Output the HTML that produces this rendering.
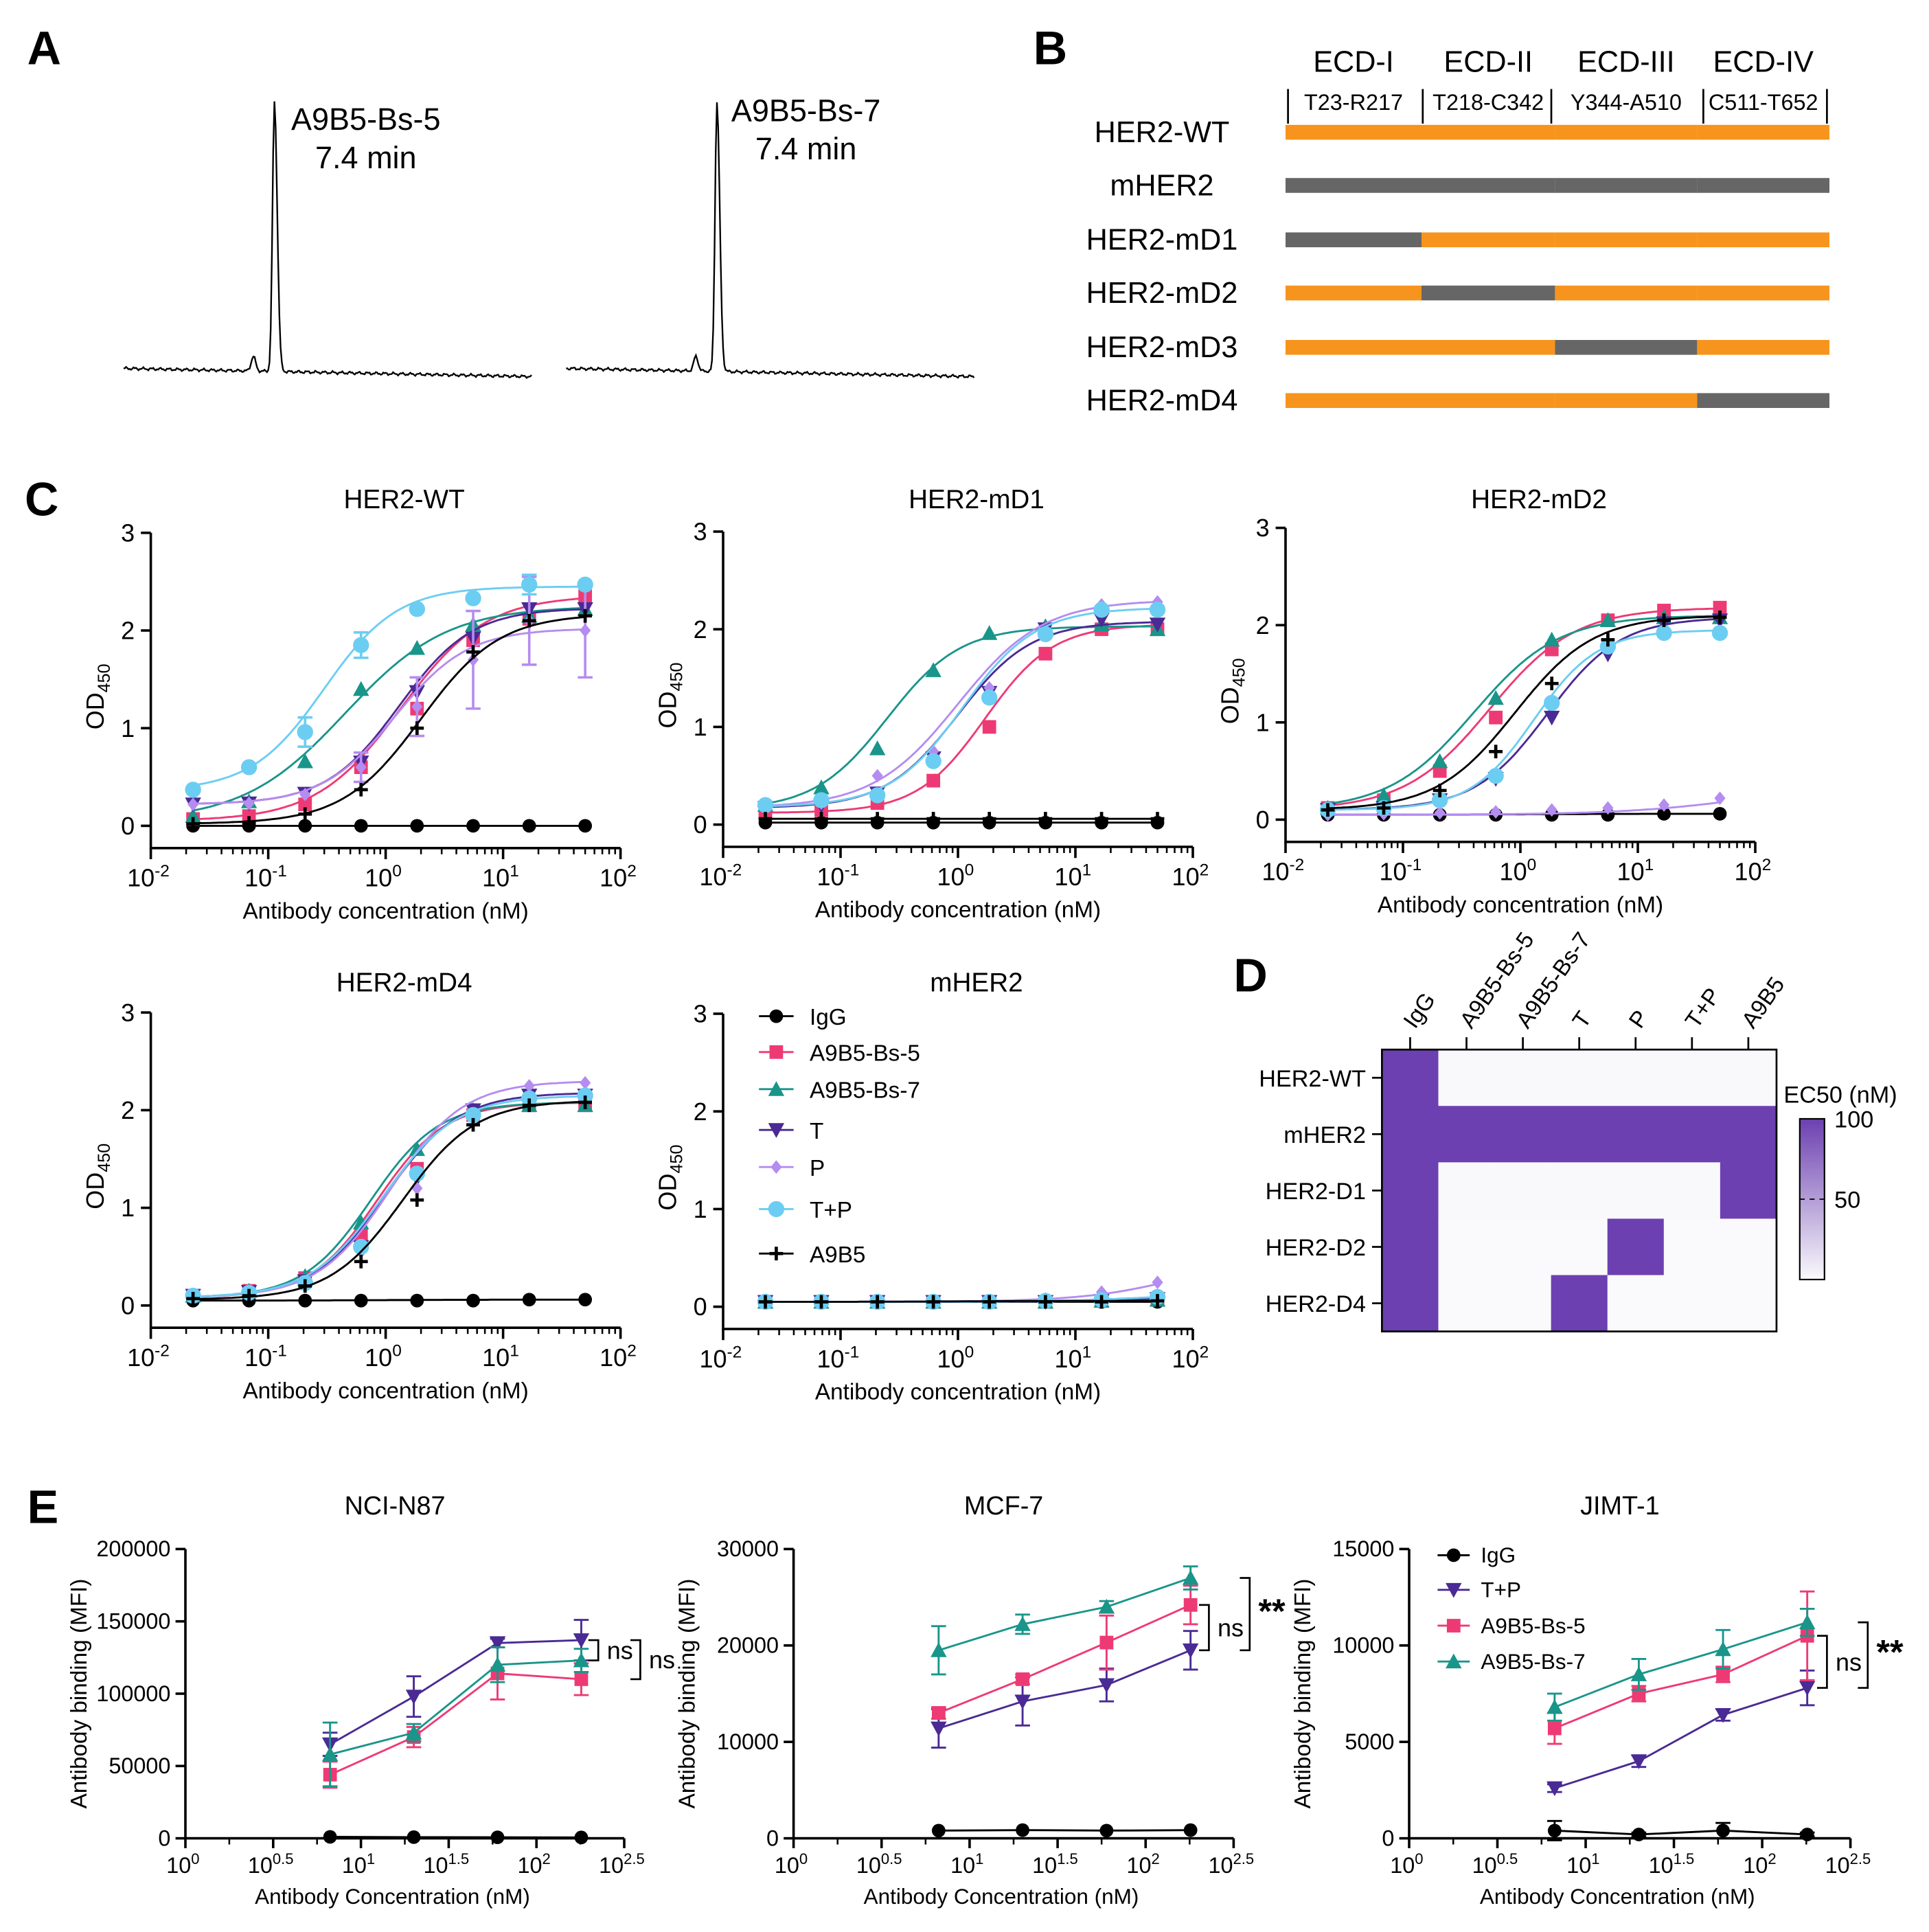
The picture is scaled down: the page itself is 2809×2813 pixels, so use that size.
<!DOCTYPE html>
<html><head><meta charset="utf-8"><style>
html,body{margin:0;padding:0;background:#fff}
svg{display:block}
text{font-family:"Liberation Sans",Arial,sans-serif;fill:#000}
</style></head><body>
<svg id="s" xmlns="http://www.w3.org/2000/svg" width="2809" height="2813" viewBox="0 0 1560.56 1562.78">
<rect width="1561" height="1563" fill="#fff"/>
</svg>
<script>
// ---------- DATA ----------
const concC=[0.0229,0.0686,0.206,0.617,1.85,5.56,16.7,50];
const seriesNames=['IgG','A9B5-Bs-5','A9B5-Bs-7','T','P','T+P','A9B5'];
// HER2-WT
const wtIgG=[0,0,0,0,0,0,0,0];
const wtBs5=[0.07,0.1,0.22,0.6,1.2,1.9,2.12,2.35];
const wtBs7=[0.1,0.25,0.66,1.4,1.82,2.06,2.15,2.22];
const wtT=[0.22,0.23,0.33,0.65,1.37,1.92,2.22,2.22];
const wtP=[0.22,0.23,0.32,0.6,1.22,1.7,2.1,2.0];
const wtTP=[0.37,0.6,0.96,1.85,2.22,2.33,2.47,2.47];
const wtA9B5=[0.02,0.03,0.12,0.37,1.0,1.78,2.1,2.15];
const wtErrP=[0,0,0,0.15,0.3,0.5,0.45,0.48];
const wtErrTP=[0,0,0.15,0.13,0,0,0.1,0];
// fits: [bottom, top, ec50, hill]
const wtFit=[[0,0,1,1],[0.05,2.36,1.35,1.2],[0.05,2.25,0.45,1.0],[0.22,2.23,1.3,1.4],[0.22,2.02,1.2,1.4],[0.36,2.45,0.3,1.4],[0.02,2.17,2.0,1.3]];
// HER2-mD1
const d1IgG=[0.02,0.02,0.02,0.02,0.02,0.02,0.02,0.02];
const d1Bs5=[0.12,0.15,0.22,0.45,1.0,1.75,2.0,2.0];
const d1Bs7=[0.2,0.38,0.78,1.58,1.96,2.03,2.05,2.0];
const d1T=[0.17,0.2,0.32,0.68,1.35,2.0,2.1,2.05];
const d1P=[0.18,0.22,0.5,0.75,1.4,1.95,2.25,2.28];
const d1TP=[0.2,0.25,0.3,0.65,1.3,1.95,2.2,2.2];
const d1A9B5=[0.06,0.06,0.06,0.06,0.06,0.06,0.06,0.06];
const d1Fit=[[0.02,0.02,1,1],[0.12,2.05,1.7,1.5],[0.15,2.03,0.25,1.4],[0.17,2.08,1.0,1.4],[0.17,2.3,1.0,1.2],[0.18,2.22,1.1,1.4],[0.06,0.06,1,1]];
// HER2-mD2
const d2IgG=[0.05,0.05,0.05,0.05,0.05,0.05,0.06,0.06];
const d2Bs5=[0.12,0.2,0.5,1.05,1.75,2.05,2.15,2.18];
const d2Bs7=[0.12,0.25,0.6,1.25,1.85,2.05,2.08,2.08];
const d2T=[0.1,0.12,0.2,0.42,1.05,1.7,2.02,2.05];
const d2P=[0.05,0.06,0.07,0.08,0.1,0.12,0.15,0.22];
const d2TP=[0.1,0.12,0.2,0.45,1.2,1.78,1.92,1.92];
const d2A9B5=[0.1,0.12,0.3,0.7,1.4,1.85,2.05,2.08];
const d2Fit=[[0.05,0.06,1,1],[0.1,2.18,0.55,1.2],[0.1,2.1,0.4,1.2],[0.1,2.08,1.7,1.4],[0.05,0.4,100,0.8],[0.1,1.95,1.3,1.6],[0.1,2.1,0.9,1.3]];
// HER2-mD4
const d4IgG=[0.05,0.05,0.05,0.05,0.05,0.05,0.06,0.06];
const d4Bs5=[0.1,0.15,0.28,0.72,1.4,1.95,2.05,2.05];
const d4Bs7=[0.1,0.15,0.3,0.85,1.6,2.0,2.05,2.05];
const d4T=[0.1,0.14,0.25,0.6,1.3,2.0,2.15,2.15];
const d4P=[0.1,0.13,0.22,0.55,1.2,1.95,2.25,2.28];
const d4TP=[0.1,0.13,0.23,0.6,1.35,1.95,2.12,2.15];
const d4A9B5=[0.07,0.1,0.2,0.45,1.08,1.85,2.05,2.08];
const d4Fit=[[0.05,0.06,1,1],[0.08,2.08,0.85,1.5],[0.08,2.08,0.75,1.5],[0.08,2.18,1.0,1.4],[0.08,2.3,1.1,1.4],[0.08,2.15,0.95,1.4],[0.06,2.1,1.4,1.4]];
// mHER2
const mIgG=[0.05,0.05,0.05,0.05,0.05,0.05,0.05,0.05];
const mBs5=[0.05,0.05,0.05,0.05,0.05,0.05,0.06,0.07];
const mBs7=[0.05,0.05,0.05,0.05,0.05,0.05,0.06,0.07];
const mT=[0.05,0.05,0.05,0.05,0.05,0.05,0.06,0.08];
const mP=[0.05,0.05,0.05,0.05,0.06,0.08,0.15,0.25];
const mTP=[0.05,0.05,0.05,0.05,0.05,0.06,0.07,0.1];
const mA9B5=[0.05,0.05,0.05,0.05,0.05,0.05,0.05,0.06];
const mFit=[[0.05,0.05,1,1],[0.05,0.1,50,1],[0.05,0.1,50,1],[0.05,0.12,50,1],[0.05,0.6,100,1],[0.05,0.15,50,1],[0.05,0.06,1,1]];
const yTicksC=[0,1,2,3];
const xDecC=[-2,-1,0,1,2];
// Heatmap
const hmCols=['IgG','A9B5-Bs-5','A9B5-Bs-7','T','P','T+P','A9B5'];
const hmRows=['HER2-WT','mHER2','HER2-D1','HER2-D2','HER2-D4'];
const hmWT=[100,1,1,1,1,1,1];
const hmM=[100,100,100,100,100,100,100];
const hmD1=[100,1,1,1,1,1,100];
const hmD2=[100,0,0,0,100,0,0];
const hmD4=[100,0,0,100,0,0,0];
// Panel E
const concE=[6.67,20,60,180];
const eNames=['IgG','T+P','A9B5-Bs-5','A9B5-Bs-7'];
const nIgG=[1000,800,700,600];
const nTP=[65000,98000,135000,137000];
const nBs5=[44000,70000,114000,110000];
const nBs7=[58000,73000,120000,123000];
const nErr=[[0,0,0,0],[8000,14000,3000,14000],[9000,7000,18000,11000],[22000,6000,12000,8000]];
const mcIgG=[800,850,800,850];
const mcTP=[11400,14200,15900,19500];
const mcBs5=[13000,16500,20300,24200];
const mcBs7=[19500,22200,24000,27000];
const mcErr=[[0,0,0,0],[2000,2500,1700,2000],[600,500,2800,2000],[2500,1000,600,1200]];
const jIgG=[400,200,400,200];
const jTP=[2600,4000,6400,7800];
const jBs5=[5700,7500,8500,10500];
const jBs7=[6800,8500,9800,11200];
const jErr=[[500,100,400,100],[200,300,300,900],[800,400,400,2300],[700,800,1000,700]];
const eYTicksN=[0,50000,100000,150000,200000];
const eYTicksM=[0,10000,20000,30000];
const eYTicksJ=[0,5000,10000,15000];
const eXTicks=['0','0.5','1','1.5','2','2.5'];

// ---------- HELPERS ----------
const NS='http://www.w3.org/2000/svg';
const S=document.getElementById('s');
function mk(tag,attrs,parent,name,inter){
  const e=document.createElementNS(NS,tag);
  for(const k in attrs)e.setAttribute(k,attrs[k]);
  
  
  (parent||S).appendChild(e);return e;
}
function txt(x,y,s,size,anchor,parent,name,extra){
  const a={x:x,y:y,'font-size':size,'text-anchor':anchor||'middle'};
  if(extra)for(const k in extra)a[k]=extra[k];
  const t=mk('text',a,parent,name);t.textContent=s;return t;
}
function pow10(x,y,exp,size,parent,name){
  const t=mk('text',{x:x,y:y,'font-size':size,'text-anchor':'middle'},parent,name);
  const a=mk('tspan',{},t,name+'-base');a.textContent='10';
  const b=mk('tspan',{dy:-size*0.4,'font-size':size*0.68},t,name+'-exp');b.textContent=exp;
  return t;
}
const COL={'IgG':'#000','A9B5-Bs-5':'#ee3a74','A9B5-Bs-7':'#19958a','T':'#4a2a94','P':'#b58cf0','T+P':'#6ccdf2','A9B5':'#000'};
const MK={'IgG':'circle','A9B5-Bs-5':'square','A9B5-Bs-7':'tri','T':'tridown','P':'diamond','T+P':'bigcircle','A9B5':'plus'};
function marker(type,x,y,c,g,name){
  const r=5.5;
  if(type==='circle')return mk('circle',{cx:x,cy:y,r:r,fill:c},g,name);
  if(type==='bigcircle')return mk('circle',{cx:x,cy:y,r:6.5,fill:c},g,name);
  if(type==='square')return mk('rect',{x:x-r,y:y-r,width:2*r,height:2*r,fill:c},g,name);
  if(type==='tri')return mk('polygon',{points:`${x},${y-r-1} ${x+r+1},${y+r} ${x-r-1},${y+r}`,fill:c},g,name);
  if(type==='tridown')return mk('polygon',{points:`${x-r-1},${y-r} ${x+r+1},${y-r} ${x},${y+r+1}`,fill:c},g,name);
  if(type==='diamond')return mk('polygon',{points:`${x},${y-r} ${x+r-1},${y} ${x},${y+r} ${x-r+1},${y}`,fill:c},g,name);
  if(type==='plus')return mk('path',{d:`M${x-r} ${y}H${x+r}M${x} ${y-r}V${y+r}`,stroke:c,'stroke-width':2.6},g,name);
}
function fourPL(p,x){return p[0]+(p[1]-p[0])/(1+Math.pow(p[2]/x,p[3]));}

// ---------- PANEL C ----------
function panelC(P,title,sets,fits,errs){
  const g=mk('g',{},S,'chart-'+title.toLowerCase());
  const xs=v=>P.x0+(Math.log10(v)+2)/4*(P.x1-P.x0);
  const ys=v=>P.y0-v/3*(P.y0-P.y3);
  txt((P.x0+P.x1)/2+15,P.ty,title,21.5,'middle',g,'chart-title');
  mk('path',{d:`M${P.x0} ${P.y3}V${P.bot}H${P.x1}`,stroke:'#000','stroke-width':2,fill:'none'},g,'axes');
  yTicksC.forEach(v=>{mk('line',{x1:P.x0-8,x2:P.x0,y1:ys(v),y2:ys(v),stroke:'#000','stroke-width':2},g,'y-tick');
    txt(P.x0-13,ys(v)+7,String(v),20,'end',g,'y-tick-label');});
  xDecC.forEach(d=>{const x=P.x0+(d+2)/4*(P.x1-P.x0);
    mk('line',{x1:x,x2:x,y1:P.bot,y2:P.bot+9,stroke:'#000','stroke-width':2},g,'x-major-tick');
    pow10(x-2,P.bot+31,String(d),20,g,'x-tick-label');
    if(d<2)for(let m=2;m<10;m++){const xm=P.x0+(d+Math.log10(m)+2)/4*(P.x1-P.x0);
      mk('line',{x1:xm,x2:xm,y1:P.bot,y2:P.bot+5,stroke:'#000','stroke-width':1.4},g,'x-minor-tick');}
  });
  const yt=mk('text',{x:0,y:0,'font-size':20,'text-anchor':'middle',transform:`translate(${P.x0-38},${(P.y3+P.y0)/2+14}) rotate(-90)`},g,'y-axis-title');
  const t1=mk('tspan',{},yt,'y-title-od');t1.textContent='OD';
  const t2=mk('tspan',{dy:5,'font-size':14},yt,'y-title-sub');t2.textContent='450';
  txt((P.x0+P.x1)/2,P.bot+57,'Antibody concentration (nM)',18.5,'middle',g,'x-axis-title');
  sets.forEach((vals,i)=>{
    const nm=seriesNames[i],c=COL[nm];
    const sg=mk('g',{},g,'series-'+nm.toLowerCase());
    let d='';for(let k=0;k<=120;k++){const lx=Math.log10(concC[0])+k/120*(Math.log10(concC[7])-Math.log10(concC[0]));
      const xv=Math.pow(10,lx);d+=(k?'L':'M')+xs(xv).toFixed(1)+' '+ys(fourPL(fits[i],xv)).toFixed(1);}
    mk('path',{d:d,stroke:c,'stroke-width':1.6,fill:'none'},sg,'fit-curve');
    vals.forEach((v,k)=>{
      const e=errs&&errs[i]?errs[i][k]:0;
      if(e>0){const x=xs(concC[k]);mk('path',{d:`M${x} ${ys(v-e)}V${ys(v+e)}M${x-6} ${ys(v-e)}H${x+6}M${x-6} ${ys(v+e)}H${x+6}`,stroke:c,'stroke-width':2,fill:'none'},sg,'error-bar');}
      marker(MK[nm],xs(concC[k]),ys(v),c,sg,'point');
    });
  });
}
panelC({x0:122,x1:502,y0:668,y3:431,bot:686,ty:411},'HER2-WT',[wtIgG,wtBs5,wtBs7,wtT,wtP,wtTP,wtA9B5],wtFit,[null,null,null,null,wtErrP,wtErrTP,null]);
panelC({x0:585,x1:965,y0:667,y3:430,bot:685,ty:411},'HER2-mD1',[d1IgG,d1Bs5,d1Bs7,d1T,d1P,d1TP,d1A9B5],d1Fit,null);
panelC({x0:1040,x1:1420,y0:663,y3:427,bot:681,ty:411},'HER2-mD2',[d2IgG,d2Bs5,d2Bs7,d2T,d2P,d2TP,d2A9B5],d2Fit,null);
panelC({x0:122,x1:502,y0:1056,y3:819,bot:1074,ty:802},'HER2-mD4',[d4IgG,d4Bs5,d4Bs7,d4T,d4P,d4TP,d4A9B5],d4Fit,null);
panelC({x0:585,x1:965,y0:1057,y3:820,bot:1075,ty:802},'mHER2',[mIgG,mBs5,mBs7,mT,mP,mTP,mA9B5],mFit,null);
// legend C
const legC=mk('g',{},S,'legend-c');
const legY=[822,851,881,914,944,978,1014];
seriesNames.forEach((nm,i)=>{
  const lg=mk('g',{},legC,'legend-entry');
  mk('line',{x1:614,x2:642,y1:legY[i],y2:legY[i],stroke:COL[nm],'stroke-width':1.6},lg,'legend-line');
  marker(MK[nm],628,legY[i],COL[nm],lg,'legend-marker');
  txt(655,legY[i]+7,nm,18.5,'start',lg,'legend-label');
});

// ---------- PANEL A ----------
const gA=mk('g',{},S,'panel-a');
function trace(x0,x1,px,name,seed){
  let d='';
  for(let x=x0;x<=x1;x+=1){
    let y=298+ (x-x0)*0.02;
    y-=218*Math.exp(-Math.pow((x-px)/(x<px?2.2:3.2),2));
    y-=12*Math.exp(-Math.pow((x-px+17)/2.5,2));
    y+=0.8*Math.sin(x*0.9+seed)+0.5*Math.sin(x*2.3+seed*2);
    d+=(x===x0?'M':'L')+x+' '+y.toFixed(1);
  }
  mk('path',{d:d,stroke:'#000','stroke-width':1.3,fill:'none'},gA,name);
}
trace(100,430,222,'chromatogram-bs5',1);
trace(458,788,580,'chromatogram-bs7',2);
txt(296,105,'A9B5-Bs-5',25,'middle',gA,'peak-label');
txt(296,136,'7.4 min',25,'middle',gA,'peak-time');
txt(652,98,'A9B5-Bs-7',25,'middle',gA,'peak-label');
txt(652,129,'7.4 min',25,'middle',gA,'peak-time');

// ---------- PANEL B ----------
const gB=mk('g',{},S,'panel-b');
const bEdges=[1040,1150,1258,1373,1480];
const domNames=['ECD-I','ECD-II','ECD-III','ECD-IV'];
const domRange=['T23-R217','T218-C342','Y344-A510','C511-T652'];
domNames.forEach((n,i)=>{const cx=(bEdges[i]+bEdges[i+1])/2;
  txt(cx,58,n,24,'middle',gB,'domain-label');txt(cx,89,domRange[i],18,'middle',gB,'domain-range');});
[1042,1151,1255,1378,1478].forEach(x=>mk('line',{x1:x,x2:x,y1:72,y2:100,stroke:'#000','stroke-width':1.5},gB,'domain-divider'));
const bRows=['HER2-WT','mHER2','HER2-mD1','HER2-mD2','HER2-mD3','HER2-mD4'];
const bY=[107,150,194,237,281,324];
bRows.forEach((r,i)=>{
  txt(940,bY[i]+8,r,24,'middle',gB,'construct-label');
  for(let s=0;s<4;s++){
    const gray=(i===1)||(i>=2&&s===i-2);
    mk('rect',{x:bEdges[s],y:bY[i]-6,width:bEdges[s+1]-bEdges[s],height:12,fill:gray?'#666666':'#f7941d'},gB,'domain-bar');
  }
});

// ---------- PANEL D ----------
const gD=mk('g',{},S,'panel-d-heatmap');
const hx0=1118,hy0=849,cw=45.6,ch=45.6;
const hmData=[hmWT,hmM,hmD1,hmD2,hmD4];
function hmColor(v){const t=Math.max(0,Math.min(1,v/100));
  const r=Math.round(250+(108-250)*t),g=Math.round(250+(64-250)*t),b=Math.round(252+(176-252)*t);return `rgb(${r},${g},${b})`;}
hmData.forEach((row,ri)=>row.forEach((v,ci)=>{
  mk('rect',{x:hx0+ci*cw,y:hy0+ri*ch,width:cw+0.5,height:ch+0.5,fill:hmColor(v)},gD,'heatmap-cell');
}));
mk('rect',{x:hx0,y:hy0,width:cw*7,height:ch*5,fill:'none',stroke:'#000','stroke-width':1.5},gD,'heatmap-frame');
hmCols.forEach((c,ci)=>{const x=hx0+(ci+0.5)*cw;
  mk('line',{x1:x,x2:x,y1:hy0-10,y2:hy0,stroke:'#000','stroke-width':1.5},gD,'col-tick');
  txt(x+4,hy0-16,c,18.5,'start',gD,'col-label',{transform:`rotate(-55 ${x+4} ${hy0-16})`});});
hmRows.forEach((r,ri)=>{const y=hy0+(ri+0.5)*ch;
  mk('line',{x1:hx0-8,x2:hx0,y1:y,y2:y,stroke:'#000','stroke-width':1.5},gD,'row-tick');
  txt(hx0-13,y+7,r,19,'end',gD,'row-label');});
const grad=mk('linearGradient',{id:'cb',x1:0,y1:1,x2:0,y2:0},mk('defs',{},S,'defs'),'colorbar-gradient');
mk('stop',{offset:0,'stop-color':hmColor(0)},grad,'stop');
mk('stop',{offset:1,'stop-color':hmColor(100)},grad,'stop');
mk('rect',{x:1456,y:905,width:20,height:130,fill:'url(#cb)',stroke:'#000','stroke-width':1.2},gD,'colorbar');
mk('line',{x1:1456,x2:1476,y1:970,y2:970,stroke:'#000','stroke-width':1,'stroke-dasharray':'4 4'},gD,'colorbar-tick');
txt(1484,912,'100',19,'start',gD,'colorbar-label');
txt(1484,977,'50',19,'start',gD,'colorbar-label');
txt(1443,892,'EC50  (nM)',19,'start',gD,'colorbar-title');

// ---------- PANEL E ----------
const ECOL={'IgG':'#000','T+P':'#4a2a94','A9B5-Bs-5':'#ee3a74','A9B5-Bs-7':'#19958a'};
const EMK={'IgG':'circle','T+P':'tridown','A9B5-Bs-5':'square','A9B5-Bs-7':'tri'};
function panelE(P,title,sets,errs,ticks,ymax){
  const g=mk('g',{},S,'chart-'+title.toLowerCase());
  const xs=v=>P.x0+Math.log10(v)/2.5*(P.x1-P.x0);
  const ys=v=>P.bot-v/ymax*(P.bot-P.ytop);
  txt((P.x0+P.x1)/2-8,1225,title,21,'middle',g,'chart-title');
  mk('path',{d:`M${P.x0} ${P.ytop}V${P.bot}H${P.x1}`,stroke:'#000','stroke-width':2,fill:'none'},g,'axes');
  ticks.forEach(v=>{mk('line',{x1:P.x0-8,x2:P.x0,y1:ys(v),y2:ys(v),stroke:'#000','stroke-width':2},g,'y-tick');
    txt(P.x0-12,ys(v)+6,String(v),18,'end',g,'y-tick-label');});
  eXTicks.forEach((e,i)=>{const x=P.x0+i/5*(P.x1-P.x0);
    mk('line',{x1:x,x2:x,y1:P.bot,y2:P.bot+8,stroke:'#000','stroke-width':2},g,'x-tick');
    if(i<5){const xm=x+(P.x1-P.x0)/10;mk('line',{x1:xm,x2:xm,y1:P.bot,y2:P.bot+5,stroke:'#000','stroke-width':1.4},g,'x-minor-tick');}
    pow10(x-2,P.bot+28,e,18,g,'x-tick-label');});
  txt(P.x0-80,(P.ytop+P.bot)/2,'Antibody binding  (MFI)',18.5,'middle',g,'y-axis-title',{transform:`rotate(-90 ${P.x0-80} ${(P.ytop+P.bot)/2})`});
  txt((P.x0+P.x1)/2-10,P.bot+53,'Antibody Concentration (nM)',17.5,'middle',g,'x-axis-title');
  sets.forEach((vals,i)=>{const nm=eNames[i],c=ECOL[nm];
    const sg=mk('g',{},g,'series-'+nm.toLowerCase());
    mk('polyline',{points:vals.map((v,k)=>xs(concE[k])+','+ys(v)).join(' '),stroke:c,'stroke-width':1.6,fill:'none'},sg,'series-line');
    vals.forEach((v,k)=>{const e=errs[i][k],x=xs(concE[k]);
      if(e>0)mk('path',{d:`M${x} ${ys(v-e)}V${ys(v+e)}M${x-6} ${ys(v-e)}H${x+6}M${x-6} ${ys(v+e)}H${x+6}`,stroke:c,'stroke-width':1.6,fill:'none'},sg,'error-bar');
      marker(EMK[nm],x,ys(v),c,sg,'point');});
  });
  return {g,xs,ys};
}
function bracket(g,x,y1,y2,label,size,bold,name){
  mk('path',{d:`M${x-8} ${y1}H${x}V${y2}H${x-8}`,stroke:'#000','stroke-width':1.5,fill:'none'},g,name);
  txt(x+7,(y1+y2)/2+7,label,size,'start',g,name+'-label',bold?{'font-weight':'bold'}:{});
}
const E1=panelE({x0:150,x1:505,ytop:1253,bot:1487},'NCI-N87',[nIgG,nTP,nBs5,nBs7],nErr,eYTicksN,200000);
bracket(E1.g,484,E1.ys(nTP[3]),E1.ys(nBs7[3]),'ns',20,false,'sig-bracket');
bracket(E1.g,518,E1.ys(nTP[3]),E1.ys(nBs5[3]),'ns',20,false,'sig-bracket');
const E2=panelE({x0:642,x1:998,ytop:1253,bot:1487},'MCF-7',[mcIgG,mcTP,mcBs5,mcBs7],mcErr,eYTicksM,30000);
bracket(E2.g,978,E2.ys(mcBs5[3]),E2.ys(mcTP[3]),'ns',20,false,'sig-bracket');
bracket(E2.g,1011,E2.ys(mcBs7[3]),E2.ys(mcTP[3]),'**',28,true,'sig-bracket');
const E3=panelE({x0:1140,x1:1497,ytop:1253,bot:1487},'JIMT-1',[jIgG,jTP,jBs5,jBs7],jErr,eYTicksJ,15000);
bracket(E3.g,1478,E3.ys(jBs5[3]),E3.ys(jTP[3]),'ns',20,false,'sig-bracket');
bracket(E3.g,1511,E3.ys(jBs7[3]),E3.ys(jTP[3]),'**',28,true,'sig-bracket');
const legE=mk('g',{},S,'legend-e');
const legEY=[1258,1286,1315,1344];
eNames.forEach((nm,i)=>{const lg=mk('g',{},legE,'legend-entry');
  mk('line',{x1:1163,x2:1189,y1:legEY[i],y2:legEY[i],stroke:ECOL[nm],'stroke-width':1.6},lg,'legend-line');
  marker(EMK[nm],1176,legEY[i],ECOL[nm],lg,'legend-marker');
  txt(1198,legEY[i]+6,nm,17.5,'start',lg,'legend-label');});

// panel letters
[['A',22,52],['B',836,52],['C',20,417],['D',998,802],['E',22,1232]].forEach(l=>txt(l[1],l[2],l[0],38,'start',S,'panel-letter-'+l[0].toLowerCase(),{'font-weight':'bold'}));
</script>
</body></html>
